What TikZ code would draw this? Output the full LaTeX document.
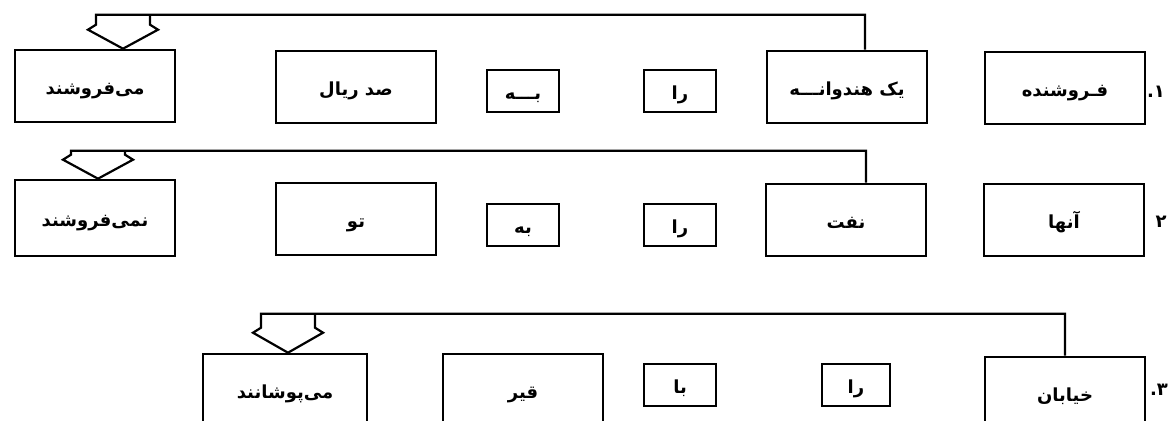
\documentclass[tikz,border=0pt]{standalone}
\usepackage{fontspec}
\newfontfamily\farsi[Script=Arabic]{DejaVu Sans}
\TeXXeTstate=1
\usetikzlibrary{calc}
\newcommand{\fa}[1]{\beginR #1\endR}

\begin{document}
\begin{tikzpicture}[
  x=1pt, y=-1pt,
  bigbox/.style={draw, line width=2.6pt, minimum width=160pt, minimum height=72pt, inner sep=0pt, text height=16pt, text depth=0pt, font=\farsi\bfseries\fontsize{18}{20}\selectfont},
  smallbox/.style={draw, line width=2.6pt, minimum width=72pt, minimum height=42pt, inner sep=0pt, text height=16pt, text depth=0pt, font=\farsi\bfseries\fontsize{18}{20}\selectfont},
  numlabel/.style={inner sep=0pt, font=\farsi\bfseries\fontsize{18}{20}\selectfont},
  conn/.style={line width=2.2pt, line join=miter}
]
  \useasboundingbox (0,0) rectangle (1169,420);
  \clip (0,0) rectangle (1169,420);

  % row 1
  \node[bigbox] (a1) at (95,86) {\fa{می‌فروشند}};
  \node[bigbox] (b1) at (356,87) {\fa{صد ریال}};
  \node[smallbox] (c1) at (523,91) {\fa{بـــه}};
  \node[smallbox] (d1) at (680,91) {\fa{را}};
  \node[bigbox] (e1) at (847,87) {\fa{یک هندوانـــه}};
  \node[bigbox] (f1) at (1065,88) {\fa{فـروشنده}};
  \node[numlabel] (l1) at (1156,92) {\fa{۱.}};
  \coordinate (t1) at ($(a1.north)+(28,0)$);
  \draw[conn] ([xshift=18pt]e1.north) |- ([xshift=-27pt,yshift=34pt]t1)
    -- ([xshift=-27pt,yshift=24pt]t1) -- ([xshift=-35pt,yshift=19pt]t1) -- (t1)
    -- ([xshift=35pt,yshift=19pt]t1) -- ([xshift=27pt,yshift=24pt]t1) -- ([xshift=27pt,yshift=34pt]t1);

  % row 2
  \node[bigbox, minimum height=76pt] (a2) at (95,218) {\fa{نمی‌فروشند}};
  \node[bigbox] (b2) at (356,219) {\fa{تو}};
  \node[smallbox] (c2) at (523,225) {\fa{به}};
  \node[smallbox] (d2) at (680,225) {\fa{را}};
  \node[bigbox] (e2) at (846,220) {\fa{نفت}};
  \node[bigbox] (f2) at (1064,220) {\fa{آنها}};
  \node[numlabel] (l2) at (1161,222) {\fa{۲}};
  \coordinate (t2) at ($(a2.north)+(3,0)$);
  \draw[conn] ([xshift=20pt]e2.north) |- ([xshift=-27pt,yshift=28pt]t2)
    -- ([xshift=-27pt,yshift=24pt]t2) -- ([xshift=-35pt,yshift=19pt]t2) -- (t2)
    -- ([xshift=35pt,yshift=19pt]t2) -- ([xshift=27pt,yshift=24pt]t2) -- ([xshift=27pt,yshift=28pt]t2);

  % row 3
  \node[bigbox, minimum width=164pt] (a3) at (285,390) {\fa{می‌پوشانند}};
  \node[bigbox] (b3) at (523,390) {\fa{قیر}};
  \node[smallbox] (c3) at (680,385) {\fa{با}};
  \node[smallbox, minimum width=68pt] (d3) at (856,385) {\fa{را}};
  \node[bigbox] (e3) at (1065,393) {\fa{خیابان}};
  \node[numlabel] (l3) at (1159,390) {\fa{۳.}};
  \coordinate (t3) at ($(a3.north)+(3,0)$);
  \draw[conn] (e3.north) |- ([xshift=-27pt,yshift=39pt]t3)
    -- ([xshift=-27pt,yshift=25pt]t3) -- ([xshift=-35pt,yshift=20pt]t3) -- (t3)
    -- ([xshift=35pt,yshift=20pt]t3) -- ([xshift=27pt,yshift=25pt]t3) -- ([xshift=27pt,yshift=39pt]t3);
\end{tikzpicture}
\end{document}
